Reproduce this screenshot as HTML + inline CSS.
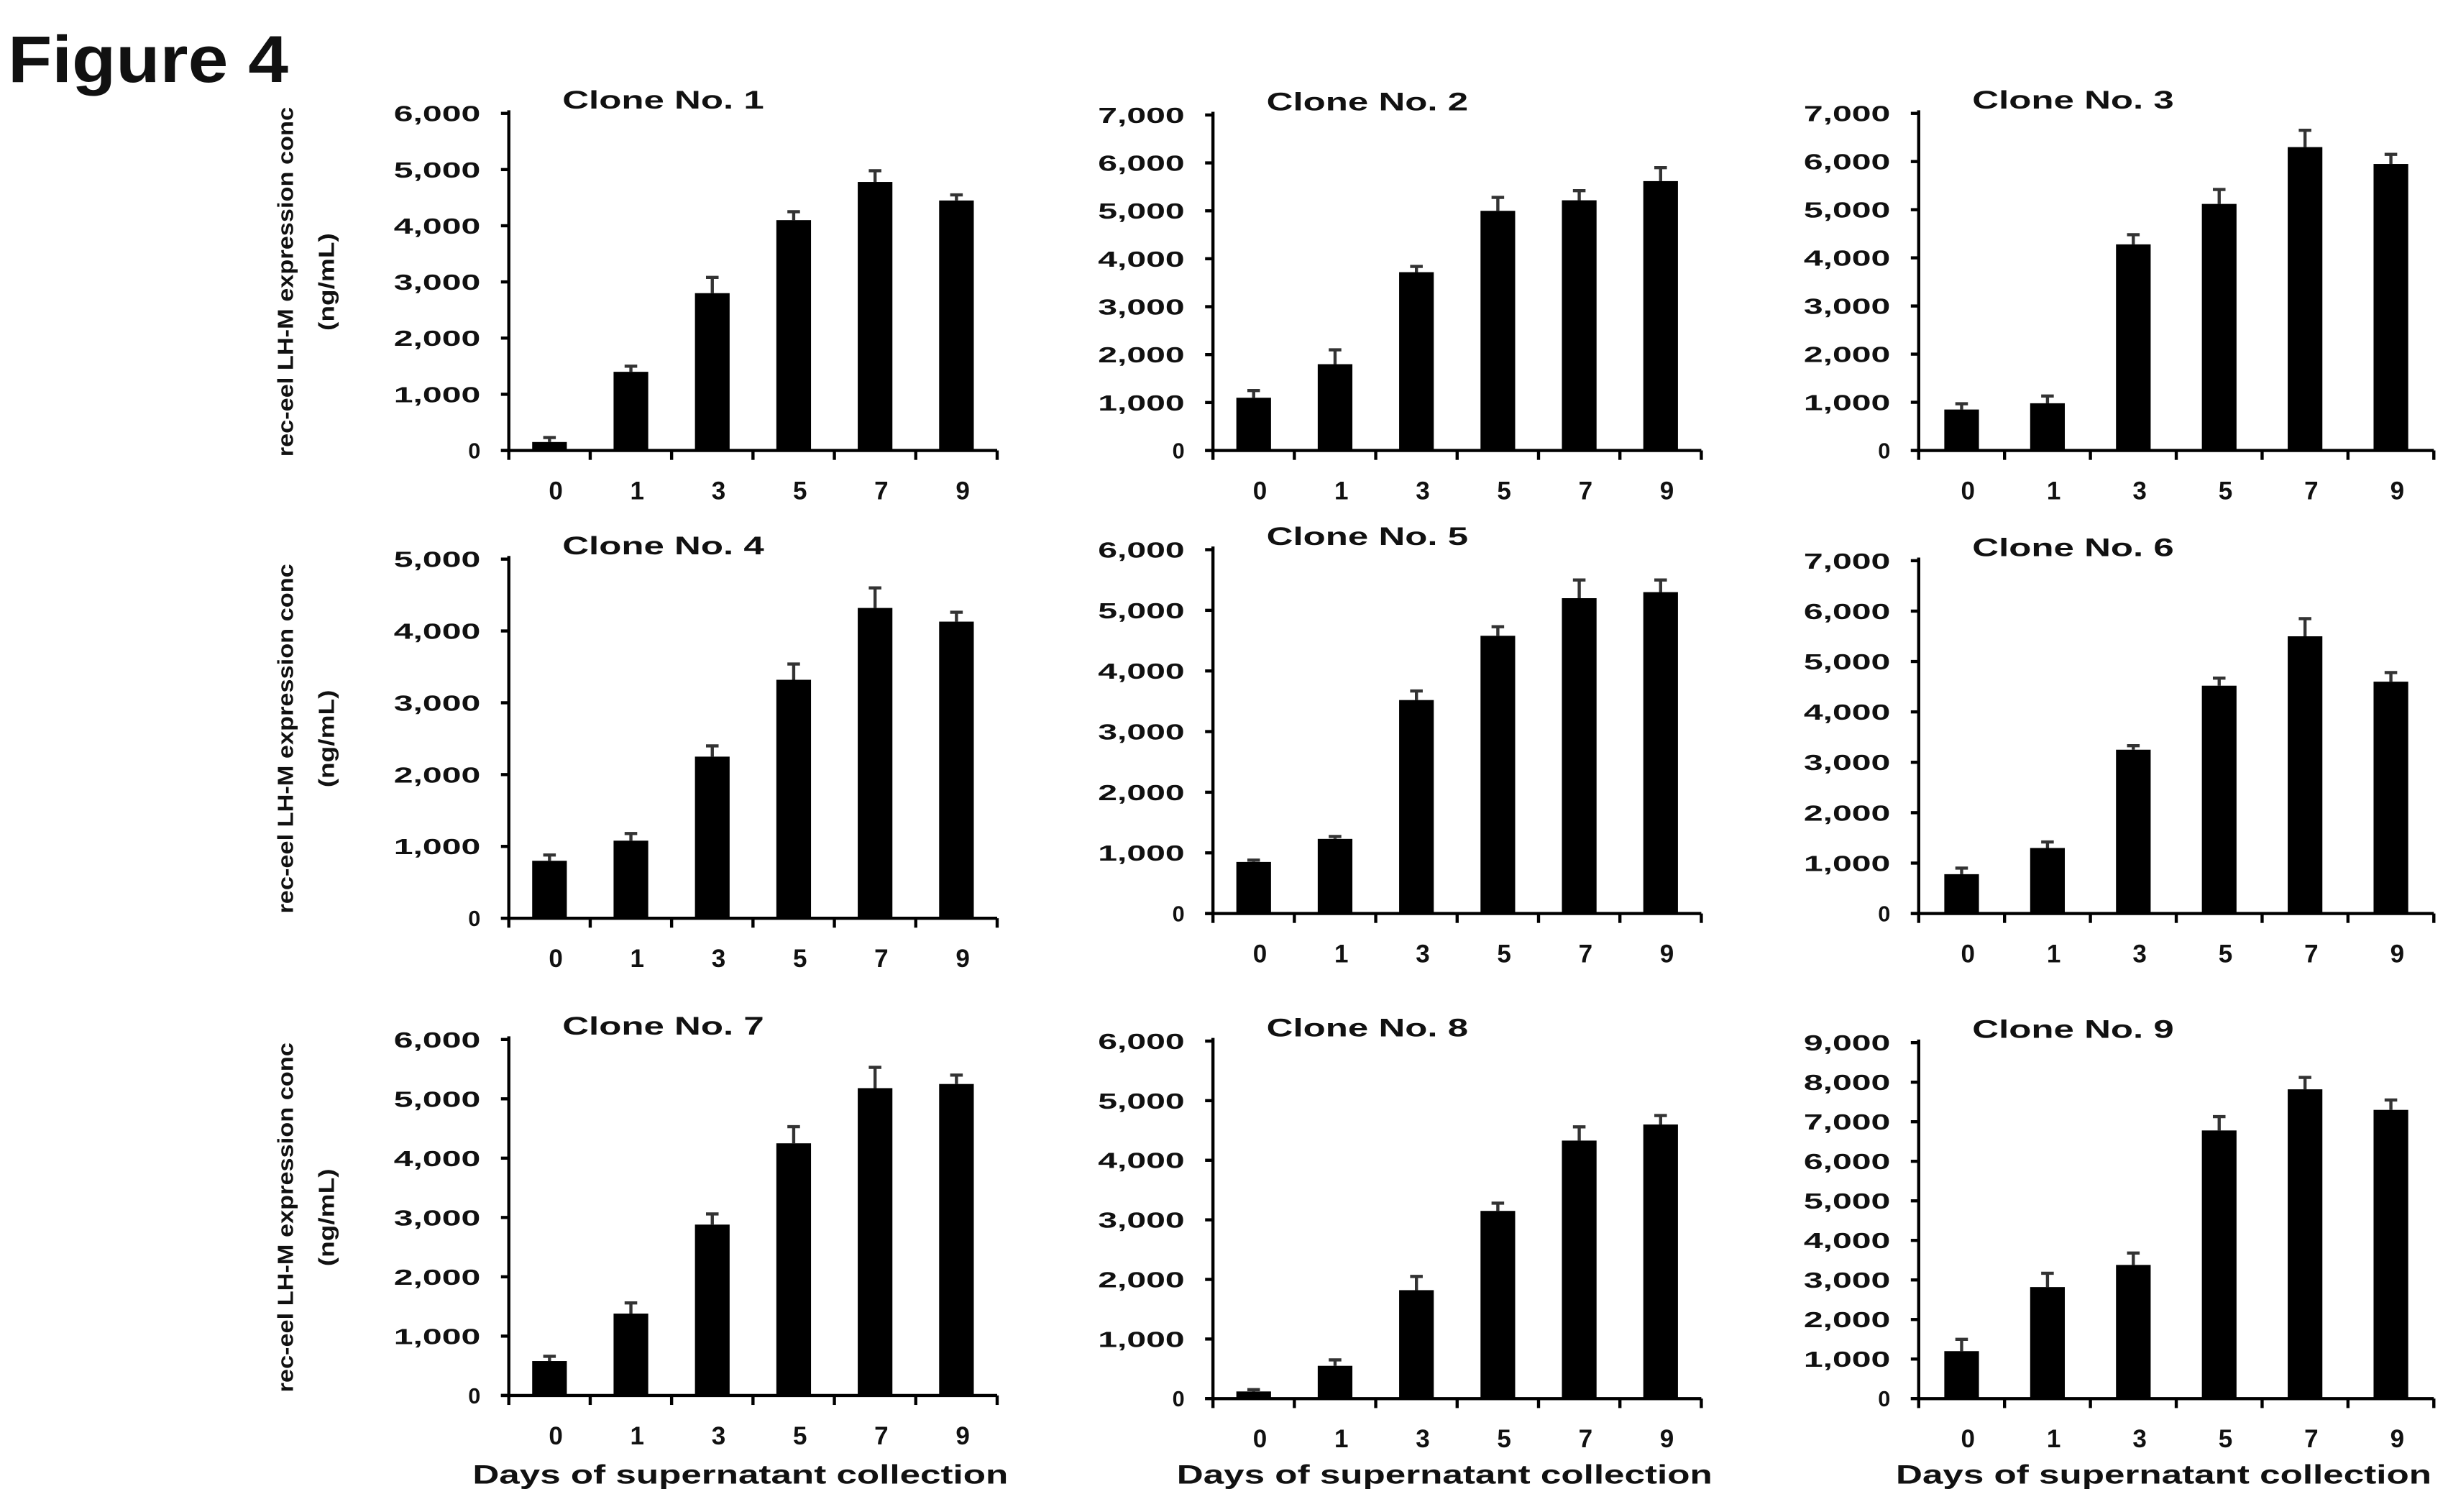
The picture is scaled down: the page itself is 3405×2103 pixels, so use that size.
<!DOCTYPE html>
<html><head><meta charset="utf-8"><style>
html,body{margin:0;padding:0;background:#fff;}
svg{display:block;}
text{font-family:"Liberation Sans",sans-serif;font-weight:bold;fill:#111;}
</style></head><body>
<svg id="fig" width="3405" height="2103" viewBox="0 0 1554 960" preserveAspectRatio="none" xmlns="http://www.w3.org/2000/svg">
<text x="5" y="52" font-size="42" textLength="178" lengthAdjust="spacingAndGlyphs">Figure 4</text>
</svg>
<script>
const categories = ["0","1","3","5","7","9"];
const clone1 = [150,1400,2800,4100,4780,4450];
const clone1Err = [80,100,280,150,200,100];
const clone2 = [1100,1800,3720,5000,5220,5620];
const clone2Err = [150,300,120,280,200,280];
const clone3 = [850,980,4280,5120,6300,5950];
const clone3Err = [120,150,200,300,350,200];
const clone4 = [800,1080,2250,3320,4320,4130];
const clone4Err = [80,100,150,220,280,130];
const clone5 = [850,1230,3520,4580,5200,5300];
const clone5Err = [30,40,150,150,300,200];
const clone6 = [780,1300,3250,4520,5500,4600];
const clone6Err = [120,120,80,150,350,180];
const clone7 = [580,1380,2880,4250,5180,5250];
const clone7Err = [80,180,180,280,350,150];
const clone8 = [120,550,1820,3150,4330,4600];
const clone8Err = [30,100,230,130,230,150];
const clone9 = [1200,2820,3380,6780,7820,7300];
const clone9Err = [300,350,300,350,300,250];
const yMaxes = [6000,7000,7000,5000,6000,7000,6000,6000,9000];

const series = [clone1,clone2,clone3,clone4,clone5,clone6,clone7,clone8,clone9];
const errs = [clone1Err,clone2Err,clone3Err,clone4Err,clone5Err,clone6Err,clone7Err,clone8Err,clone9Err];
const layout = [
 {ax:323,end:633,top:72,zero:286},{ax:770,end:1080,top:73,zero:286},{ax:1218,end:1545,top:72,zero:286},
 {ax:323,end:633,top:355,zero:583},{ax:770,end:1080,top:349,zero:580},{ax:1218,end:1545,top:356,zero:580},
 {ax:323,end:633,top:660,zero:886},{ax:770,end:1080,top:661,zero:888},{ax:1218,end:1545,top:662,zero:888}];
const NS="http://www.w3.org/2000/svg";
const svg=document.getElementById('fig');
function mk(tag,attrs,parent){const e=document.createElementNS(NS,tag);for(const k in attrs)e.setAttribute(k,attrs[k]);(parent||svg).appendChild(e);return e;}
function fmt(v){return v.toLocaleString('en-US');}
layout.forEach((L,i)=>{
  const g=mk('g',{});
  
  
  const ymax=yMaxes[i];
  const y=v=>L.zero-(v/ymax)*(L.zero-L.top);
  const cw=(L.end-L.ax)/categories.length;
  const x=j=>L.ax+cw*(j+0.5);
  const t=mk('text',{x:L.ax+34,y:L.top-3,'font-size':16,textLength:128,lengthAdjust:'spacingAndGlyphs'},g);
  t.textContent='Clone No. '+(i+1);
  
  
  for(let v=0;v<=ymax;v+=1000){
    mk('line',{x1:L.ax-5,x2:L.ax,y1:y(v),y2:y(v),stroke:'#000','stroke-width':2},g);
    const s=fmt(v);
    const attrs={x:L.ax-18,y:y(v)+5,'font-size':14,'text-anchor':'end'};
    if(v>0){attrs.textLength=55;attrs.lengthAdjust='spacingAndGlyphs';}
    const tl=mk('text',attrs,g);
    tl.textContent=s;
    
    
  }
  series[i].forEach((v,j)=>{
    const e=errs[i][j];
    const ln=mk('line',{x1:x(j),x2:x(j),y1:y(v),y2:y(v+e),stroke:'#333','stroke-width':2},g);
    
    
    mk('line',{x1:x(j)-4,x2:x(j)+4,y1:y(v+e),y2:y(v+e),stroke:'#333','stroke-width':2},g);
    const b=mk('rect',{x:x(j)-11,y:y(v),width:22,height:L.zero-y(v),fill:'#000'},g);
    
    
    const xl=mk('text',{x:x(j)+4,y:L.zero+31,'font-size':16,'text-anchor':'middle'},g);
    xl.textContent=categories[j];
    
    
  });
  for(let j=0;j<=categories.length;j++){
    mk('line',{x1:L.ax+cw*j,x2:L.ax+cw*j,y1:L.zero,y2:L.zero+6,stroke:'#000','stroke-width':2},g);
  }
  const ya=mk('line',{x1:L.ax,x2:L.ax,y1:L.top-2,y2:L.zero,stroke:'#000','stroke-width':2},g);
  
  
  const xa=mk('line',{x1:L.ax-5,x2:L.end,y1:L.zero,y2:L.zero,stroke:'#000','stroke-width':2},g);
  
  
  if(i%3===0){
    const cy=(L.top+L.zero)/2;
    const a=mk('text',{x:0,y:0,'font-size':14,'text-anchor':'middle',textLength:222,lengthAdjust:'spacingAndGlyphs',transform:`translate(186,${cy}) rotate(-90)`},g);
    a.textContent='rec-eel LH-M expression conc';
    
    
    const b2=mk('text',{x:0,y:0,'font-size':14,'text-anchor':'middle',textLength:62,lengthAdjust:'spacingAndGlyphs',transform:`translate(212,${cy}) rotate(-90)`},g);
    b2.textContent='(ng/mL)';
    
    
  }
  if(i>=6){
    const xt=mk('text',{x:(L.ax+L.end)/2-8,y:942,'font-size':17,'text-anchor':'middle',textLength:340,lengthAdjust:'spacingAndGlyphs'},g);
    xt.textContent='Days of supernatant collection';
    
    
  }
});
</script>
</body></html>
